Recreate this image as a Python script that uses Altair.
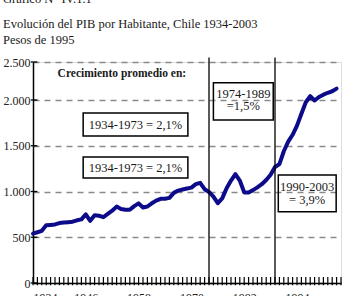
import altair as alt
import pandas as pd

# GDP per capita, Chile (1995 pesos), one value per year 1934-2003
years = list(range(1934, 2004))
pib = [540, 555, 570, 630, 635, 640, 655, 660, 665, 670,        # 1934-1943
       685, 695, 750, 680, 740, 735, 720, 755, 790, 835,        # 1944-1953
       808, 800, 800, 840, 870, 825, 836, 871, 900, 920,        # 1954-1963
       920, 930, 985, 1010, 1022, 1033, 1042, 1080, 1095, 1025, # 1964-1973
       995, 945, 872, 925, 1035, 1120, 1190, 1120, 990, 990,    # 1974-1983
       1015, 1045, 1080, 1125, 1183, 1268, 1300, 1440, 1545, 1620,  # 1984-1993
       1720, 1850, 1975, 2050, 1995, 2040, 2070, 2095, 2115, 2150]  # 1994-2003

# period boundaries
period_years = [1974, 1989]

# axis ticks and labels
y_ticks = [0, 500, 1000, 1500, 2000, 2500]
x_label_years = [1934, 1946, 1958, 1970, 1982, 1994]
x_tick_years = list(range(1934, 2005))

# framed growth notes (data coordinates)
box_x = [1945.4, 1945.4, 1975.0, 1989.75]
box_x2 = [1969.2, 1969.2, 1988.6, 2002.9]
box_y = [1858, 1377, 2228, 1180]
box_y2 = [1607, 1148, 1781, 779]

note_text = ["1934-1973 = 2,1%", "1934-1973 = 2,1%", "1974-1989", "=1,5%", "1990-2003", "= 3,9%"]
note_x = [1957.3, 1957.3, 1981.8, 1981.8, 1996.3, 1996.3]
note_y = [1727, 1262, 2085, 1930, 1052, 902]

header_text = ["Crecimiento promedio en:"]
header_x = [1954.2]
header_y = [2342]

SERIF = "Liberation Serif"
W, H = 308, 221

series = pd.DataFrame({"year": years, "pib": pib})
periods = pd.DataFrame({"year": period_years, "lo": [0] * 2, "hi": [2560] * 2})
# short comb marks straddling the year axis, and small marks at the value ticks
xticks = pd.DataFrame({"year": x_tick_years,
                       "tlo": [-25.0] * len(x_tick_years),
                       "thi": [65.0] * len(x_tick_years)})
yticks = pd.DataFrame({"v": y_ticks, "x0": [1933.5] * len(y_ticks), "x1": [1935.0] * len(y_ticks)})
boxes = pd.DataFrame({"x": box_x, "x2": box_x2, "y": box_y, "y2": box_y2})
notes = pd.DataFrame({"t": note_text, "x": note_x, "y": note_y})
header = pd.DataFrame({"t": header_text, "x": header_x, "y": header_y})

xscale = alt.Scale(domain=[1934, 2004], nice=False, zero=False)
yscale = alt.Scale(domain=[0, 2000, 2500], range=[H, 38, 0], nice=False)

x_axis = alt.Axis(
    values=x_label_years, format="d", ticks=False, grid=False,
    domainColor="black", domainWidth=1.3, labelFont=SERIF, labelFontSize=12,
    labelColor="#222", labelPadding=9, title=None,
)
y_axis = alt.Axis(
    values=y_ticks, labelExpr="replace(format(datum.value, ','), ',', '.')",
    ticks=False, domainColor="black", domainWidth=1.5,
    grid=True, gridColor="#8a8a8a", gridDash=[6, 5], gridWidth=1.3,
    labelFont=SERIF, labelFontSize=12, labelColor="#222", labelPadding=3, title=None,
)

line = alt.Chart(series).mark_line(
    color="#0c0c8a", strokeWidth=4, strokeJoin="round", strokeCap="round"
).encode(
    x=alt.X("year:Q", scale=xscale, axis=x_axis),
    y=alt.Y("pib:Q", scale=yscale, axis=y_axis),
)

vlines = alt.Chart(periods).mark_rule(color="black", strokeWidth=1.3).encode(
    x=alt.X("year:Q", scale=xscale), y=alt.Y("lo:Q", scale=yscale), y2="hi:Q"
)

xt = alt.Chart(xticks).mark_rule(color="black", strokeWidth=1.2).encode(
    x=alt.X("year:Q", scale=xscale), y=alt.Y("tlo:Q", scale=yscale), y2=alt.Y2("thi:Q")
)
yt = alt.Chart(yticks).mark_rule(color="black", strokeWidth=1.3).encode(
    x=alt.X("x0:Q", scale=xscale), x2=alt.X2("x1:Q"), y=alt.Y("v:Q", scale=yscale)
)

rects = alt.Chart(boxes).mark_rect(fillOpacity=0, stroke="black", strokeWidth=1.5).encode(
    x=alt.X("x:Q", scale=xscale), x2="x2:Q", y=alt.Y("y:Q", scale=yscale), y2="y2:Q"
)

note_marks = alt.Chart(notes).mark_text(
    font=SERIF, fontSize=12.5, color="#1a1a1a", baseline="middle", align="center"
).encode(x=alt.X("x:Q", scale=xscale), y=alt.Y("y:Q", scale=yscale), text="t:N")

header_mark = alt.Chart(header).mark_text(
    font=SERIF, fontSize=11.5, fontWeight="bold", color="#1a1a1a", baseline="middle", align="center"
).encode(x=alt.X("x:Q", scale=xscale), y=alt.Y("y:Q", scale=yscale), text="t:N")

chart = alt.layer(line, vlines, xt, yt, rects, note_marks, header_mark).properties(
    width=W, height=H,
    title=alt.TitleParams(
        text="Gráfico N° IV.1.1",
        subtitle=["Evolución del PIB por Habitante, Chile 1934-2003", "Pesos de 1995"],
        anchor="start", frame="group", dx=-30, offset=10,
        font=SERIF, fontSize=12.5, fontWeight="normal", color="#1a1a1a",
        subtitleFont=SERIF, subtitleFontSize=12.5, subtitleColor="#1a1a1a",
        subtitleLineHeight=16, subtitlePadding=12,
    ),
    autosize=alt.AutoSizeParams(type="none"),
    padding={"left": 33, "top": 62, "right": 1, "bottom": 13},
).configure_view(stroke=None).configure(background="white")

chart.save("out.html", embed_options={"renderer": "svg", "actions": False})
